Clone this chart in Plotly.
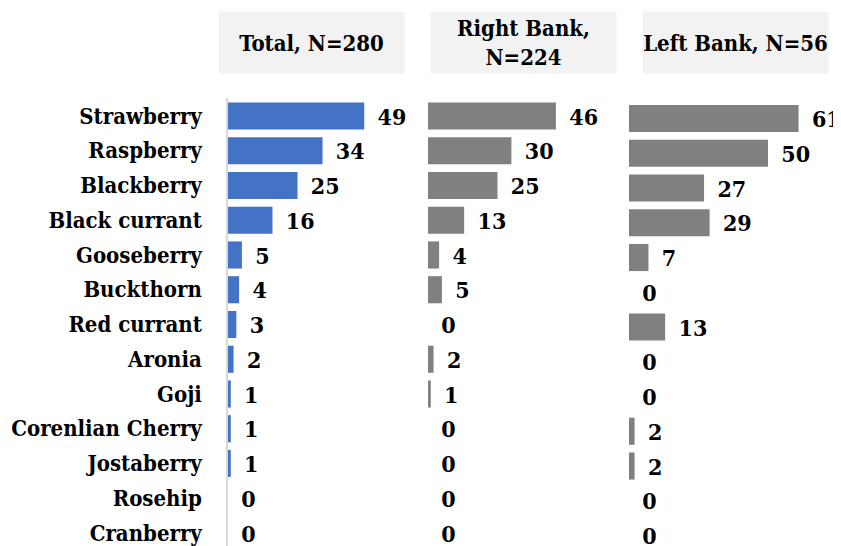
import plotly.graph_objects as go

categories = ["Strawberry", "Raspberry", "Blackberry", "Black currant", "Gooseberry",
              "Buckthorn", "Red currant", "Aronia", "Goji", "Corenlian Cherry",
              "Jostaberry", "Rosehip", "Cranberry"]
total = [49, 34, 25, 16, 5, 4, 3, 2, 1, 1, 1, 0, 0]
right_bank = [46, 30, 25, 13, 4, 5, 0, 2, 1, 0, 0, 0, 0]
left_bank = [61, 50, 27, 29, 7, 0, 13, 0, 0, 2, 2, 0, 0]
panel_titles = ["Total, N=280", "Right Bank,<br>N=224", "Left Bank, N=56"]
bar_colors = ["#4472C4", "#808080", "#808080"]

OFF = 8  # page body margin
W, H = 841 - OFF, 546 - OFF
ML, MR, MT, MB = 228 - OFF, 0, 98 - OFF, 0
PW = W - ML - MR
PH = H - MT - MB
SCALE = 2.78  # px per unit

FONT = "DejaVu Serif Condensed, DejaVu Serif, serif"
FS = 22
FS_NUM = 23

# panel pixel extents relative to plot-area left
panels_px = [(0, 190), (200, 390), (401, 605)]
header_centers = [311.5 - OFF, 523.5 - OFF, 735.5 - OFF]
header_cy = 42 - OFF

fig = go.Figure()
series = [total, right_bank, left_bank]
for i, (vals, col) in enumerate(zip(series, bar_colors)):
    fig.add_trace(go.Bar(
        y=categories, x=vals, orientation="h",
        marker=dict(color=col, line=dict(width=0)),
        width=0.78,
        text=["\u2002" + str(v) for v in vals],
        textposition="outside",
        textfont=dict(family=FONT, size=FS_NUM, color="#000000", weight="bold"),
        constraintext="none", cliponaxis=False,
        xaxis="x" if i == 0 else f"x{i+1}",
        yaxis="y" if i == 0 else f"y{i+1}",
        showlegend=False, hoverinfo="skip",
    ))

yrange = [12.374, -0.518]
layout = dict(
    width=W, height=H,
    margin=dict(l=ML, r=MR, t=MT, b=MB, pad=0, autoexpand=False),
    paper_bgcolor="white", plot_bgcolor="white",
    font=dict(family=FONT, size=FS, color="#000000", weight="bold"),
)
for i, (a, b) in enumerate(panels_px):
    xk = "xaxis" if i == 0 else f"xaxis{i+1}"
    yk = "yaxis" if i == 0 else f"yaxis{i+1}"
    layout[xk] = dict(domain=[a / PW, b / PW], range=[0, (b - a) / SCALE],
                      visible=False, fixedrange=True, automargin=False,
                      anchor="y" if i == 0 else f"y{i+1}")
    shift = 0.072 if i == 2 else 0.0
    ya = dict(type="category", categoryorder="array", categoryarray=categories,
              range=[yrange[0] - shift, yrange[1] - shift], domain=[0, 1],
              anchor="x" if i == 0 else f"x{i+1}", automargin=False,
              showgrid=False, zeroline=False, fixedrange=True)
    if i == 0:
        ya.update(showline=True, linecolor="#d9d9d9", linewidth=1.5,
                  ticks="outside", ticklen=20, tickcolor="rgba(0,0,0,0)",
                  tickfont=dict(family=FONT, size=FS, color="#000000", weight="bold"))
    else:
        ya.update(showline=False, showticklabels=False, ticks="")
    layout[yk] = ya

annotations = []
for title, cx in zip(panel_titles, header_centers):
    annotations.append(dict(
        text=title, xref="paper", yref="paper",
        x=(cx - ML) / PW, y=(H - MB - header_cy) / PH,
        xanchor="center", yanchor="middle",
        width=185, height=61, borderpad=0,
        bgcolor="#f2f2f2", showarrow=False, align="center", valign="middle",
        font=dict(family=FONT, size=FS, color="#000000", weight="bold"),
    ))
layout["annotations"] = annotations
fig.update_layout(**layout)

fig.write_html("out.html")
